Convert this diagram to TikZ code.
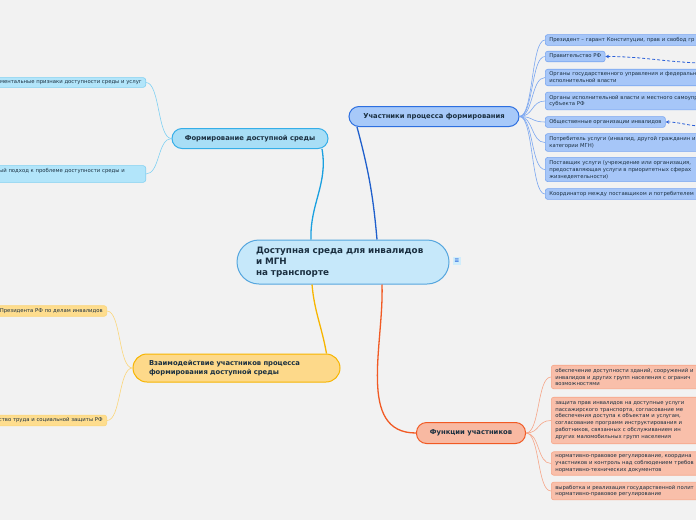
\documentclass[tikz,border=0pt]{standalone}
\usepackage{fontspec}
\setmainfont{DejaVu Sans}
\usetikzlibrary{arrows.meta}
\begin{document}
\begin{tikzpicture}[x=1pt,y=-1pt,
    leafbox/.style={draw, rounded corners=2.5pt, line width=0.6pt, inner xsep=4pt, inner ysep=2.8pt,
        align=left, font=\fontsize{5.3}{6.9}\selectfont, text=mytext},
    topicbox/.style={draw, line width=1pt, font=\bfseries\fontsize{6.8}{8.5}\selectfont, text=mytext},
    rootlink/.style={line width=1.3pt},
    leaflink/.style={line width=0.6pt},
    dashlink/.style={draw=mydash, line width=0.8pt, dash pattern=on 3pt off 2pt, -{Stealth[length=3.5pt,width=3.5pt]}}]
    \definecolor{mybg}{HTML}{F2F2F2}
    \definecolor{mytext}{HTML}{1A2F40}
    \definecolor{rootfill}{HTML}{C6E8FA}
    \definecolor{rootdraw}{HTML}{55A6DE}
    \definecolor{formfill}{HTML}{A8DEF6}
    \definecolor{formdraw}{HTML}{35AEE8}
    \definecolor{formleaf}{HTML}{B2E5FA}
    \definecolor{formleafdraw}{HTML}{7FD0F2}
    \definecolor{formlink}{HTML}{1AA0E0}
    \definecolor{partfill}{HTML}{A7C9F9}
    \definecolor{partdraw}{HTML}{2D6FE0}
    \definecolor{partleaf}{HTML}{A6C6F8}
    \definecolor{partleafdraw}{HTML}{7AA6F0}
    \definecolor{partlink}{HTML}{1F5FCC}
    \definecolor{interfill}{HTML}{FDD98A}
    \definecolor{interdraw}{HTML}{F7B500}
    \definecolor{interleaf}{HTML}{FEDD8E}
    \definecolor{interleafdraw}{HTML}{FBD67A}
    \definecolor{funcfill}{HTML}{F8B9A2}
    \definecolor{funcdraw}{HTML}{F15A24}
    \definecolor{funcleaf}{HTML}{F9BFAA}
    \definecolor{funcleafdraw}{HTML}{F6A689}
    \definecolor{mydash}{HTML}{2A5FD8}

    \fill[mybg] (0,0) rectangle (696,520);
    \useasboundingbox (0,0) rectangle (696,520);

    % centre
    \node[draw=rootdraw, fill=rootfill, line width=1pt, rounded corners=22pt, minimum width=212pt, minimum height=44pt,
        text width=174pt, align=left, font=\bfseries\fontsize{8.8}{11}\selectfont, text=mytext]
        (root) at (343,262) {Доступная среда для инвалидов\\и МГН\\на транспорте};
    \node[fill=rootfill!80, text=partdraw, font=\bfseries\fontsize{6}{6}\selectfont, inner sep=1pt, minimum size=8pt]
        (menu) at (457,261) {≡};

    % topics
    \node[topicbox, draw=formdraw, fill=formfill, rounded corners=10pt, minimum width=156pt, minimum height=20pt]
        (form) at (250,138.5) {Формирование доступной среды};
    \node[topicbox, draw=partdraw, fill=partfill, rounded corners=10pt, minimum width=170pt, minimum height=20pt]
        (part) at (434,116.5) {Участники процесса формирования};
    \node[topicbox, draw=interdraw, fill=interfill, rounded corners=14pt, minimum width=207pt, minimum height=28pt,
        text width=175pt, align=left] (inter) at (236.5,368) {Взаимодействие участников процесса\\формирования доступной среды};
    \node[topicbox, draw=funcdraw, fill=funcfill, rounded corners=10pt, minimum width=109pt, minimum height=21pt]
        (func) at (471,433) {Функции участников};

    % left leaves
    \node[leafbox, fill=formleaf, draw=formleafdraw, anchor=east, text width=200pt, align=right]
        (signs) at (146,82.5) {ментальные признаки доступности среды и услуг};
    \node[leafbox, fill=formleaf, draw=formleafdraw, anchor=east, text width=200pt, align=right]
        (approach) at (146,174) {ый подход к проблеме доступности среды и\rule{17pt}{0pt}\\\mbox{}};
    \node[leafbox, fill=interleaf, draw=interleafdraw, anchor=east, text width=200pt, align=right]
        (council) at (107,311) {Президента РФ по делам инвалидов};
    \node[leafbox, fill=interleaf, draw=interleafdraw, anchor=east, text width=200pt, align=right]
        (ministry) at (107,420.5) {ство труда и социальной защиты РФ};

    % right leaves
    \node[leafbox, fill=partleaf, draw=partleafdraw, anchor=west, text width=200pt] (pres) at (545,40) {Президент – гарант Конституции, прав и свобод гр};
    \node[leafbox, fill=partleaf, draw=partleafdraw, anchor=west] (gov) at (545,56.5) {Правительство РФ};
    \node[leafbox, fill=partleaf, draw=partleafdraw, anchor=west, text width=200pt] (organs) at (545,77.5) {Органы государственного управления и федеральн\\исполнительной власти};
    \node[leafbox, fill=partleaf, draw=partleafdraw, anchor=west, text width=200pt] (exec) at (545,101) {Органы исполнительной власти и местного самоупр\\субъекта РФ};
    \node[leafbox, fill=partleaf, draw=partleafdraw, anchor=west] (public) at (545,122) {Общественные организации инвалидов};
    \node[leafbox, fill=partleaf, draw=partleafdraw, anchor=west, text width=200pt] (consumer) at (545,142.5) {Потребитель услуги (инвалид, другой гражданин и\\категории МГН)};
    \node[leafbox, fill=partleaf, draw=partleafdraw, anchor=west, text width=200pt] (provider) at (545,169.5) {Поставщик услуги (учреждение или организация,\\предоставляющая услуги в приоритетных сферах\\жизнедеятельности)};
    \node[leafbox, fill=partleaf, draw=partleafdraw, anchor=west, text width=200pt] (coord) at (545,194) {Координатор между поставщиком и потребителем};

    \node[leafbox, fill=funcleaf, draw=funcleafdraw, anchor=west, text width=200pt] (access) at (551,377) {обеспечение доступности зданий, сооружений и\\инвалидов и других групп населения с огранич\\возможностями};
    \node[leafbox, fill=funcleaf, draw=funcleafdraw, anchor=west, text width=200pt, inner ysep=4pt] (rights) at (551,420.5) {защита прав инвалидов на доступные услуги\\пассажирского транспорта, согласование ме\\обеспечения доступа к объектам и услугам,\\согласование программ инструктирования и\\работников, связанных с обслуживанием ин\\других маломобильных групп населения};
    \node[leafbox, fill=funcleaf, draw=funcleafdraw, anchor=west, text width=200pt] (norms) at (551,463.5) {нормативно-правовое регулирование, координа\\участников и контроль над соблюдением требов\\нормативно-технических документов};
    \node[leafbox, fill=funcleaf, draw=funcleafdraw, anchor=west, text width=200pt] (policy) at (551,491) {выработка и реализация государственной полит\\нормативно-правовое регулирование};

    % links from the centre
    \draw[rootlink, formlink] ([xshift=-32pt]root.north) to[out=92,in=-80] ([xshift=72pt]form.south);
    \draw[rootlink, partlink] ([xshift=34pt]root.north) to[out=95,in=-75] ([xshift=-77pt]part.south);
    \draw[rootlink, interdraw] ([xshift=-31pt]root.south) to[out=-85,in=100] ([xshift=90pt]inter.north);
    \draw[rootlink, funcdraw] ([xshift=39pt]root.south) to[out=-88,in=180] (func.west);

    % links to the leaves
    \foreach \n in {signs,approach}
        \draw[leaflink, formleafdraw] (form.west) .. controls +(-14,0) and +(14,0) .. (\n.east);
    \foreach \n in {council,ministry}
        \draw[leaflink, interleafdraw] (inter.west) .. controls +(-14,0) and +(14,0) .. (\n.east);
    \foreach \n in {pres,gov,organs,exec,public,consumer,provider,coord}
        \draw[leaflink, partleafdraw] (part.east) .. controls +(14,0) and +(-14,0) .. (\n.west);
    \foreach \n in {access,rights,norms,policy}
        \draw[leaflink, funcleafdraw] (func.east) .. controls +(14,0) and +(-14,0) .. (\n.west);

    % dashed links coming from outside
    \coordinate (govsrc) at (700,63);
    \coordinate (pubsrc) at (700,126);
    \draw[dashlink] (govsrc) to[out=178,in=0] (gov.east);
    \draw[dashlink] (pubsrc) to[out=178,in=0] (public.east);
\end{tikzpicture}
\end{document}
